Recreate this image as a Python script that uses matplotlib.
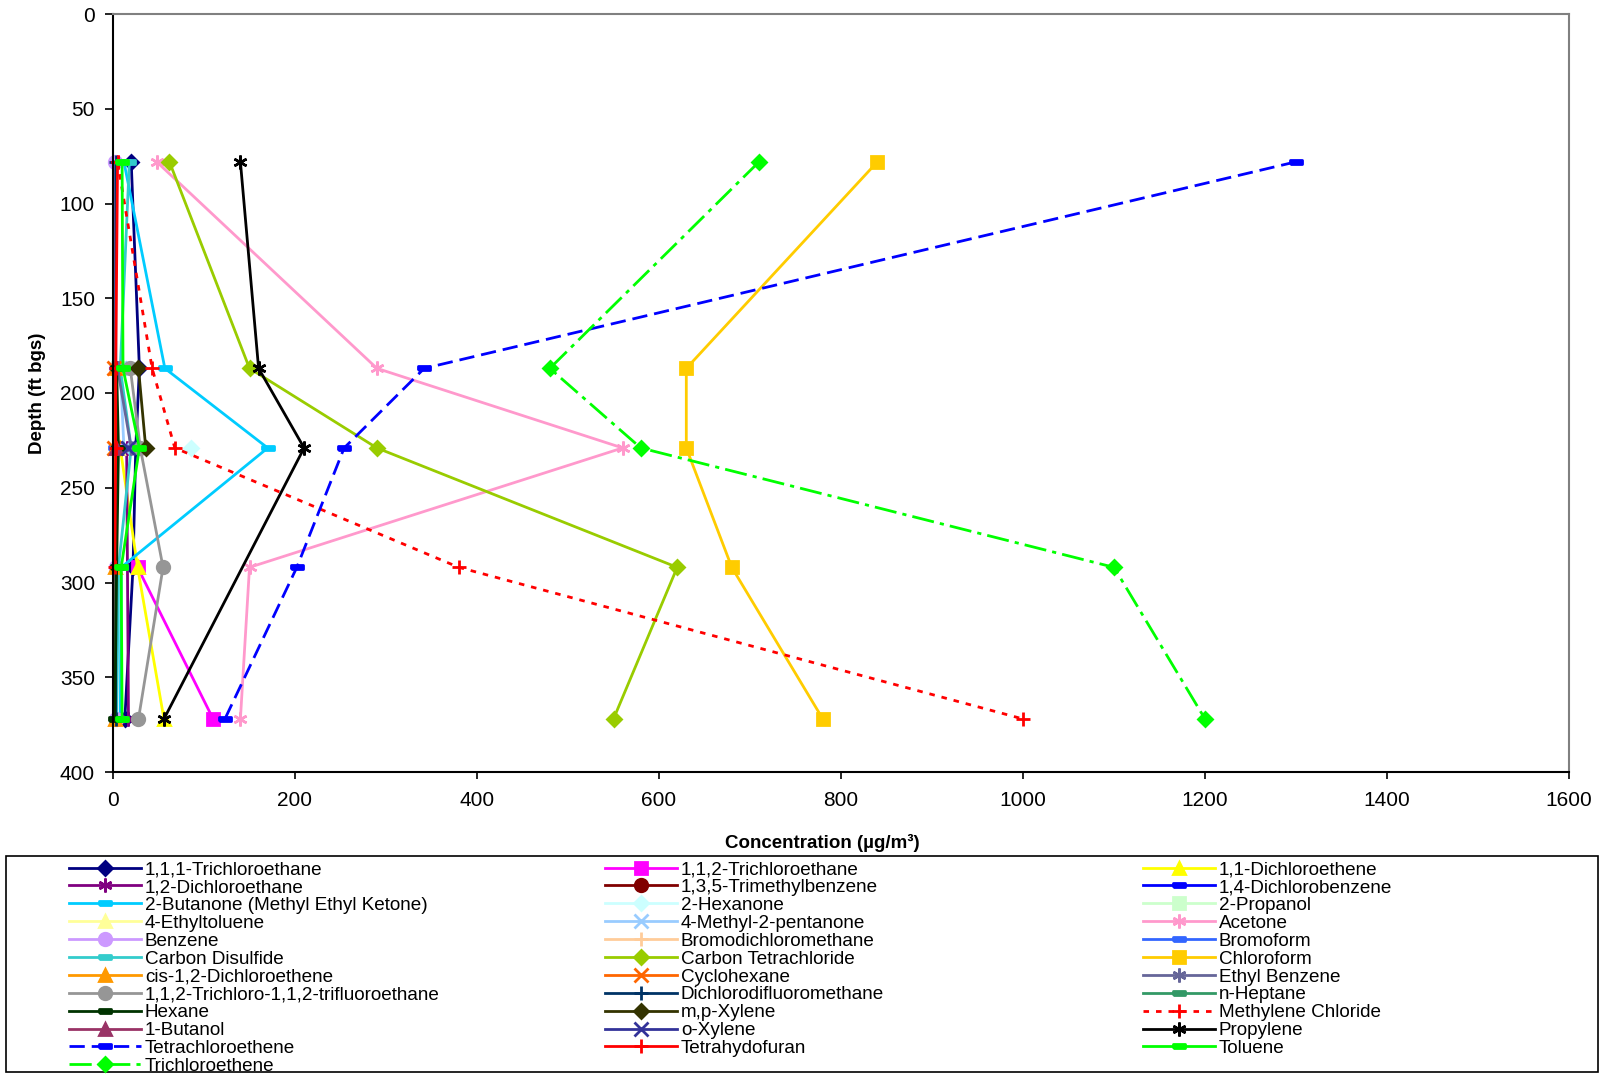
import numpy as np
import matplotlib.pyplot as plt
from matplotlib.patches import Rectangle

plt.rcParams['font.family'] = ['Liberation Sans', 'DejaVu Sans']

W, H = 1602, 1075

def fx(px):
    return px / W

def fy(py):
    return 1 - py / H

nan = np.nan

# sample depths (ft bgs)
depth = [78, 187, 229, 292, 372]

# concentrations (ug/m3) per compound
tca_111 = [20, 29, 25, 22, 13]
tca_112 = [nan, nan, nan, 27, 110]
dce_11 = [nan, nan, 8, 27, 56]
dca_12 = [nan, nan, 15, nan, 17]
tmb_135 = [nan, nan, 5, nan, nan]
dcb_14 = [nan, nan, 3, nan, nan]
butanone = [12, 57, 170, 9, 8]
hexanone = [nan, nan, 86, nan, nan]
propanol = [nan, 5, nan, nan, nan]
ethyltoluene = [nan, nan, 6, nan, nan]
mibk = [nan, 8, 12, nan, nan]
acetone = [48, 290, 560, 150, 140]
benzene = [2, 3, 5, 3, 3]
bromodichloromethane = [nan, nan, 4, nan, nan]
bromoform = [nan, nan, 2, nan, nan]
carbon_disulfide = [18, 8, 20, 6, 4]
carbon_tet = [62, 150, 290, 620, 550]
chloroform = [840, 630, 630, 680, 780]
cis_dce = [nan, 2, 2, 2, 2]
cyclohexane = [nan, 1, 1, nan, nan]
ethylbenzene = [nan, 5, 20, nan, nan]
freon113 = [nan, 19, 30, 55, 28]
freon12 = [3, 3, 4, 3, 3]
heptane = [nan, nan, 5, nan, nan]
hexane = [nan, 4, 6, 4, 2]
mp_xylene = [nan, 28, 36, nan, nan]
methylene_chloride = [5, 43, 68, 380, 1000]
butanol = [nan, nan, 3, nan, nan]
o_xylene = [nan, nan, 17, nan, nan]
propylene = [140, 160, 210, nan, 56]
pce = [1300, 342, 254, 202, 123]
thf = [5, 3, 3, 2, nan]
toluene = [10, 11, 29, 9, 10]
tce = [710, 480, 580, 1100, 1200]

names = [
    '1,1,1-Trichloroethane', '1,1,2-Trichloroethane', '1,1-Dichloroethene',
    '1,2-Dichloroethane', '1,3,5-Trimethylbenzene', '1,4-Dichlorobenzene',
    '2-Butanone (Methyl Ethyl Ketone)', '2-Hexanone', '2-Propanol',
    '4-Ethyltoluene', '4-Methyl-2-pentanone', 'Acetone',
    'Benzene', 'Bromodichloromethane', 'Bromoform',
    'Carbon Disulfide', 'Carbon Tetrachloride', 'Chloroform',
    'cis-1,2-Dichloroethene', 'Cyclohexane', 'Ethyl Benzene',
    '1,1,2-Trichloro-1,1,2-trifluoroethane', 'Dichlorodifluoromethane', 'n-Heptane',
    'Hexane', 'm,p-Xylene', 'Methylene Chloride',
    '1-Butanol', 'o-Xylene', 'Propylene',
    'Tetrachloroethene', 'Tetrahydofuran', 'Toluene',
    'Trichloroethene',
]
series = [
    tca_111, tca_112, dce_11, dca_12, tmb_135, dcb_14, butanone, hexanone,
    propanol, ethyltoluene, mibk, acetone, benzene, bromodichloromethane,
    bromoform, carbon_disulfide, carbon_tet, chloroform, cis_dce, cyclohexane,
    ethylbenzene, freon113, freon12, heptane, hexane, mp_xylene,
    methylene_chloride, butanol, o_xylene, propylene, pce, thf, toluene, tce,
]

dash = [(-1, -0.3), (1, -0.3), (1, 0.3), (-1, 0.3), (-1, -0.3)]
star = (6, 2, 0)
# (color, marker, linestyle)
styles = [
    ('#000080', 'D', '-'), ('#FF00FF', 's', '-'), ('#FFFF00', '^', '-'),
    ('#800080', star, '-'), ('#800000', 'o', '-'), ('#0000FF', dash, '-'),
    ('#00CCFF', dash, '-'), ('#CCFFFF', 'D', '-'), ('#CCFFCC', 's', '-'),
    ('#FFFF99', '^', '-'), ('#99CCFF', 'x', '-'), ('#FF99CC', star, '-'),
    ('#CC99FF', 'o', '-'), ('#FFCC99', '+', '-'), ('#3366FF', dash, '-'),
    ('#33CCCC', dash, '-'), ('#99CC00', 'D', '-'), ('#FFCC00', 's', '-'),
    ('#FF9900', '^', '-'), ('#FF6600', 'x', '-'), ('#666699', star, '-'),
    ('#969696', 'o', '-'), ('#003366', '+', '-'), ('#339966', dash, '-'),
    ('#003300', dash, '-'), ('#333300', 'D', '-'), ('#FF0000', '+', (0, (2, 2.5))),
    ('#993366', '^', '-'), ('#333399', 'x', '-'), ('#000000', star, '-'),
    ('#0000FF', dash, (0, (5.5, 2.5))), ('#FF0000', '+', '-'), ('#00FF00', dash, '-'),
    ('#00FF00', 'D', (0, (8, 2.2, 1.5, 2.2))),
]

fig = plt.figure(figsize=(W / 100, H / 100), dpi=100)
ax = fig.add_axes([fx(113), fy(772), fx(1569) - fx(113), fy(14) - fy(772)])

handles = []
for vals, name, (col, mk, ls) in zip(series, names, styles):
    d = np.array(depth, dtype=float)
    v = np.array(vals, dtype=float)
    ok = ~np.isnan(v)
    ms, mew = 9, 2
    if isinstance(mk, list):
        ms = 9
    elif mk == 'D':
        ms = 7.5
    elif mk == star:
        ms, mew = 10, 1.8
    elif mk in ('x', '+'):
        ms = 10
    line, = ax.plot(v[ok], d[ok], color=col, marker=mk, linestyle=ls, linewidth=2,
                    markersize=ms, markeredgewidth=mew, markeredgecolor=col,
                    markerfacecolor=col, label=name, clip_on=False)
    handles.append(line)

ax.set_xlim(0, 1600)
ax.set_ylim(400, 0)
ax.set_xticks(range(0, 1601, 200))
ax.set_yticks(range(0, 401, 50))
ax.tick_params(axis='x', labelsize=15, length=5, width=1.2, pad=9, direction='out')
ax.tick_params(axis='y', labelsize=15, length=6, width=1.2, pad=7, direction='out')
for s in ('left', 'bottom'):
    ax.spines[s].set_color('#000000')
    ax.spines[s].set_linewidth(1.5)
for s in ('top', 'right'):
    ax.spines[s].set_color('#808080')
    ax.spines[s].set_linewidth(1.5)

fig.text(fx(822), fy(843), 'Concentration (µg/m³)', fontsize=13.5, fontweight='bold',
         ha='center', va='center')
fig.text(fx(37), fy(393), 'Depth (ft bgs)', fontsize=13.5, fontweight='bold',
         rotation=90, ha='center', va='center')

# legend frame and three columns (Excel fills rows first)
fig.add_artist(Rectangle((fx(6), fy(1072)), fx(1598) - fx(6), fy(856) - fy(1072),
                         transform=fig.transFigure, fill=False, edgecolor='#000000',
                         linewidth=1.2))
col_x = [69, 605, 1143]
for k in range(3):
    hs = handles[k::3]
    fig.legend(hs, [h.get_label() for h in hs], loc='upper left',
               bbox_to_anchor=(fx(col_x[k]), fy(861)), frameon=False,
               fontsize=13.6, borderpad=0, borderaxespad=0, labelspacing=0.035,
               handlelength=3.8, handletextpad=0.22, numpoints=1)

fig.savefig('out.png', dpi=100)
